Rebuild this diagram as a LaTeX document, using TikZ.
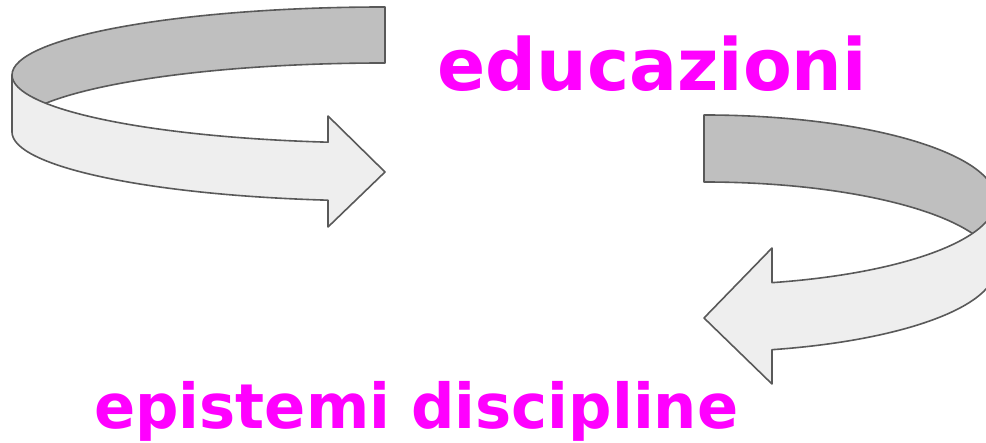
\documentclass[tikz,border=0pt]{standalone}
\usepackage{fontspec}
\setmainfont{DejaVu Sans}
\definecolor{bandback}{HTML}{BFBFBF}
\definecolor{bandfront}{HTML}{EEEEEE}
\definecolor{bandedge}{HTML}{595959}
\definecolor{labelpink}{HTML}{FF00FF}
\begin{document}
\begin{tikzpicture}[x=1pt,y=1pt,
  ribbon/.style={draw=bandedge, line width=1.6pt, line join=round},
  backband/.style={ribbon, fill=bandback},
  frontband/.style={ribbon, fill=bandfront},
  word/.style={inner sep=0pt, anchor=base west, text=labelpink}]
\useasboundingbox (0,0) rectangle (986,443);
\clip (0,0) rectangle (986,443);
% upper-left ribbon: back half, then front half with the head pointing right
\draw[backband] (385,436)
  arc[start angle=90, end angle=180, x radius=373pt, y radius=68pt]
  -- (12,311)
  arc[start angle=180, end angle=90, x radius=373pt, y radius=69pt]
  -- cycle;
\draw[frontband] (12,368)
  arc[start angle=180, end angle=261.21, x radius=373pt, y radius=68pt]
  -- (328,327) -- (385,271) -- (328,216) -- (328,242.8)
  arc[start angle=261.21, end angle=180, x radius=373pt, y radius=69pt]
  -- cycle;
% right ribbon: back half, then front half with the head pointing left
\draw[backband] (704,328)
  arc[start angle=90, end angle=0, x radius=292pt, y radius=85pt]
  -- (996,176)
  arc[start angle=0, end angle=90, x radius=292pt, y radius=85pt]
  -- cycle;
\draw[frontband] (996,243)
  arc[start angle=0, end angle=-76.53, x radius=292pt, y radius=85pt]
  -- (772,195) -- (704,125) -- (772,59) -- (772,93.3)
  arc[start angle=-76.53, end angle=0, x radius=292pt, y radius=85pt]
  -- cycle;
% labels
\node[word, font=\bfseries\fontsize{72}{80}\selectfont] (edu) at (437,352)
  {\scalebox{0.988}[1]{educazioni}};
\node[word, font=\bfseries\fontsize{62}{70}\selectfont] (epi) at (94,14)
  {\scalebox{0.98}[1]{epistemi discipline}};
\end{tikzpicture}
\end{document}
